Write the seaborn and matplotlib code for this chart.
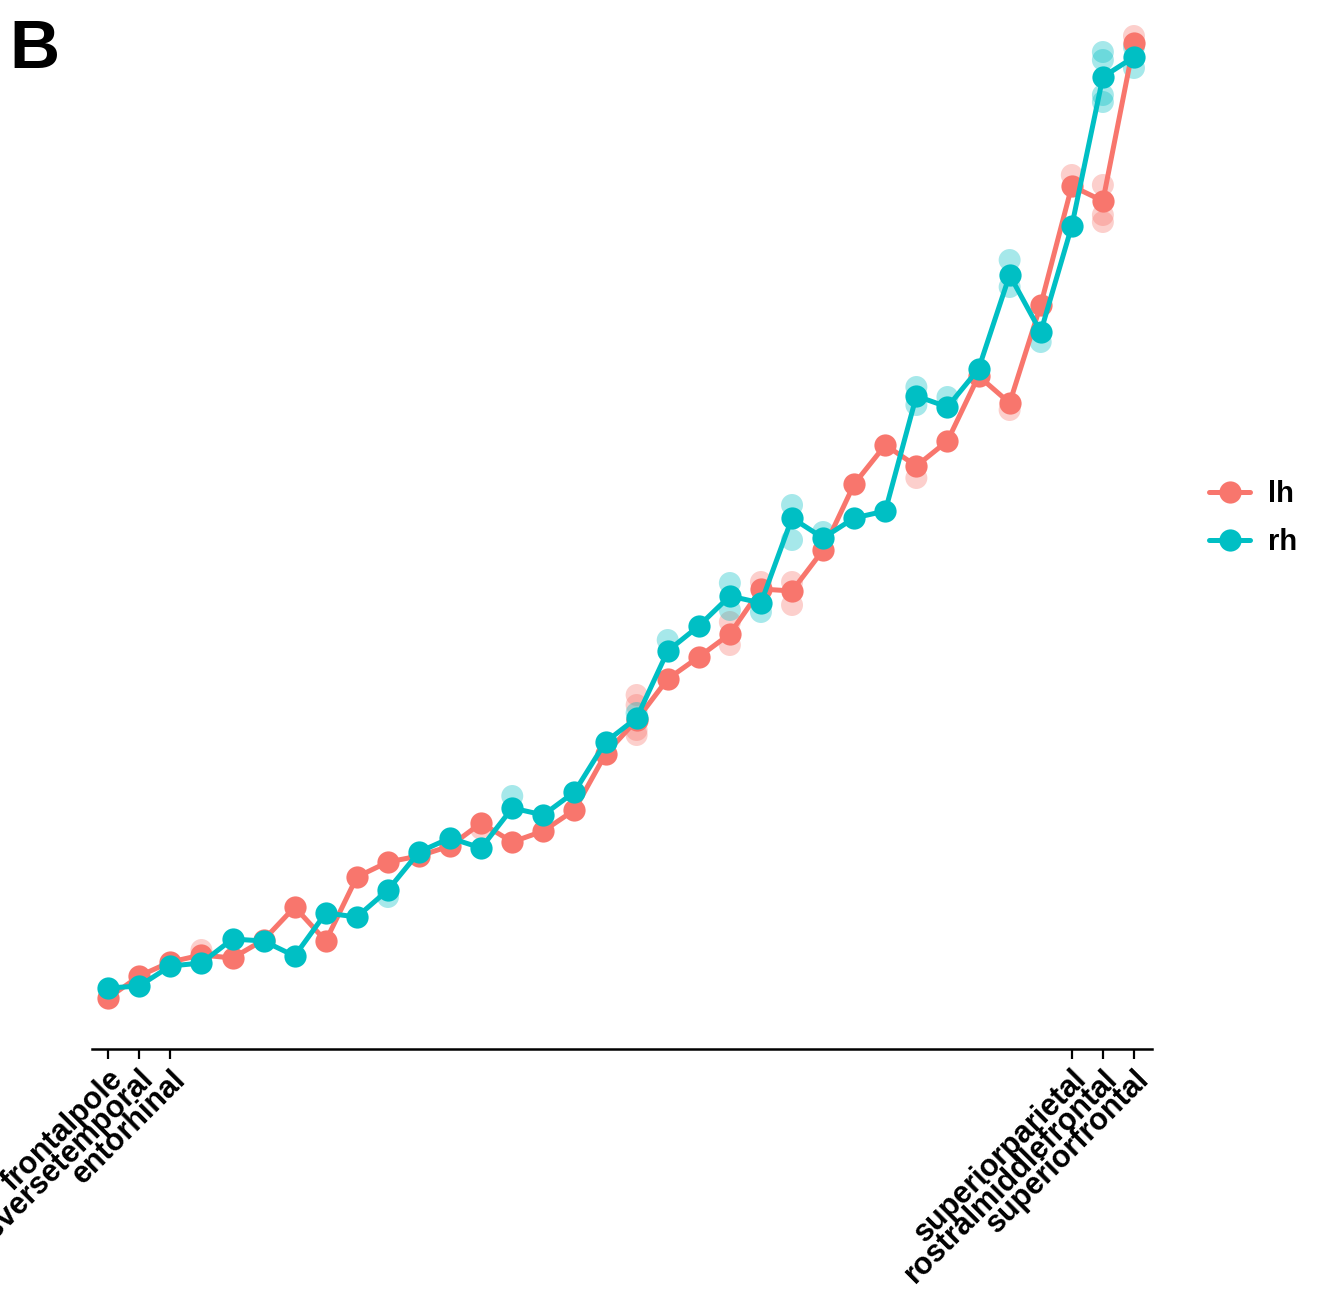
import numpy as np
import pandas as pd
import matplotlib
matplotlib.use("Agg")
import matplotlib.pyplot as plt
import seaborn as sns

# ---------------- data ----------------
regions = [
    "frontalpole", "transversetemporal", "entorhinal", "temporalpole",
    "parahippocampal", "rostralanteriorcingulate", "caudalanteriorcingulate",
    "parsorbitalis", "bankssts", "isthmuscingulate", "posteriorcingulate",
    "pericalcarine", "cuneus", "paracentral", "parstriangularis",
    "parsopercularis", "medialorbitofrontal", "caudalmiddlefrontal",
    "fusiform", "lingual", "insula", "lateralorbitofrontal",
    "inferiortemporal", "middletemporal", "supramarginal", "postcentral",
    "precuneus", "superiortemporal", "inferiorparietal", "lateraloccipital",
    "precentral", "superiorparietal", "rostralmiddlefrontal", "superiorfrontal",
]
shown_labels = ["frontalpole", "transversetemporal", "entorhinal",
                "superiorparietal", "rostralmiddlefrontal", "superiorfrontal"]

lh_values = [5.1, 7.3, 8.7, 9.4, 9.1, 10.9, 14.2, 10.8, 17.2, 18.7, 19.3, 20.3,
             22.6, 20.7, 21.8, 23.9, 29.5, 32.9, 37.0, 39.2, 41.5, 46.0, 45.8,
             49.9, 56.5, 60.4, 58.3, 60.8, 67.3, 64.6, 74.4, 86.3, 84.8, 100.6]
rh_values = [6.1, 6.3, 8.3, 8.6, 11.0, 10.8, 9.3, 13.6, 13.2, 15.9, 19.7, 21.1,
             20.1, 24.1, 23.4, 25.7, 30.7, 33.1, 39.8, 42.3, 45.3, 44.6, 53.1,
             51.1, 53.1, 53.8, 65.3, 64.2, 68.0, 77.4, 71.7, 82.3, 97.2, 99.2]

# faded replicate points (hemisphere, region index, value)
rep_hemi = ["lh"] * 18 + ["rh"] * 22
rep_index = [17, 17, 17, 17, 20, 20, 21, 22, 22, 26, 29, 31, 32, 32, 32, 33, 3, 12,
             9, 13, 17, 18, 20, 20, 21, 22, 22, 23, 26, 26, 27, 29, 29, 30, 32, 32,
             32, 32, 33, 33]
rep_value = [35.4, 34.4, 31.9, 31.4, 42.7, 40.4, 46.7, 46.7, 44.4, 57.1, 63.9,
             87.4, 86.4, 83.4, 82.7, 101.3, 9.9, 22.0,
             15.2, 25.3, 33.6, 40.9, 46.6, 43.9, 43.7, 54.4, 50.9, 51.7, 66.2,
             64.4, 65.2, 78.9, 76.2, 70.7, 99.7, 98.9, 95.4, 94.7, 100.2, 98.1]

hemis = ["lh", "rh"]
colors = {"lh": "#F8766D", "rh": "#00BFC4"}

# ---------------- frames ----------------
means = pd.DataFrame({
    "region": regions * 2,
    "pos": list(range(len(regions))) * 2,
    "hemi": ["lh"] * len(regions) + ["rh"] * len(regions),
    "value": lh_values + rh_values,
})
reps = pd.DataFrame({"hemi": rep_hemi, "pos": rep_index, "value": rep_value})

# ---------------- plot ----------------
sns.set_theme(style="white")
plt.rcParams["font.family"] = ["Liberation Sans", "DejaVu Sans"]
plt.rcParams["text.color"] = "black"
plt.rcParams["xtick.color"] = "black"
plt.rcParams["xtick.labelcolor"] = "black"

fig = plt.figure(figsize=(13.24, 12.99), dpi=100)
ax = fig.add_axes([92 / 1324, 1 - 1049 / 1299, (1152 - 92) / 1324, 1049 / 1299])

sns.scatterplot(data=reps, x="pos", y="value", hue="hemi",
                palette=colors, hue_order=hemis, s=250, alpha=0.35,
                linewidth=0, legend=False, ax=ax, zorder=1)
sns.lineplot(data=means, x="pos", y="value", hue="hemi", palette=colors,
             hue_order=hemis, marker="o", markersize=16, markeredgewidth=0,
             linewidth=3.6, ax=ax, zorder=3, estimator=None, sort=True)

ax.set_xlim(-0.52, 33.58)
ax.set_ylim(0, 104.9)
ax.set_xlabel("")
ax.set_ylabel("")
ax.set_yticks([])

tick_pos = [regions.index(r) for r in shown_labels]
ax.set_xticks(tick_pos)
ax.set_xticklabels(shown_labels, rotation=45, ha="right", va="top",
                   rotation_mode="anchor", fontsize=22, fontweight="bold",
                   color="black")
ax.tick_params(axis="x", length=7, width=1.6, color="black", pad=4,
               bottom=True, direction="out")

for s in ["left", "top", "right"]:
    ax.spines[s].set_visible(False)
ax.spines["bottom"].set_color("black")
ax.spines["bottom"].set_linewidth(1.8)
ax.grid(False)

handles, labels = ax.get_legend_handles_labels()
if ax.get_legend():
    ax.get_legend().remove()
leg = fig.legend(handles, labels, loc="center left",
                 bbox_to_anchor=(1183 / 1324, 1 - 518 / 1299), frameon=False,
                 prop={"size": 21, "weight": "bold"}, handlelength=1.4,
                 labelspacing=0.7, handletextpad=0.6)
for h in leg.legend_handles:
    h.set_linewidth(3.6)
    h.set_markersize(16)
for t in leg.get_texts():
    t.set_color("black")

fig.text(9 / 1324, 1 - 68 / 1299, "B", fontsize=50, fontweight="bold",
         ha="left", va="baseline", color="black")

fig.savefig("out.png", dpi=100)
